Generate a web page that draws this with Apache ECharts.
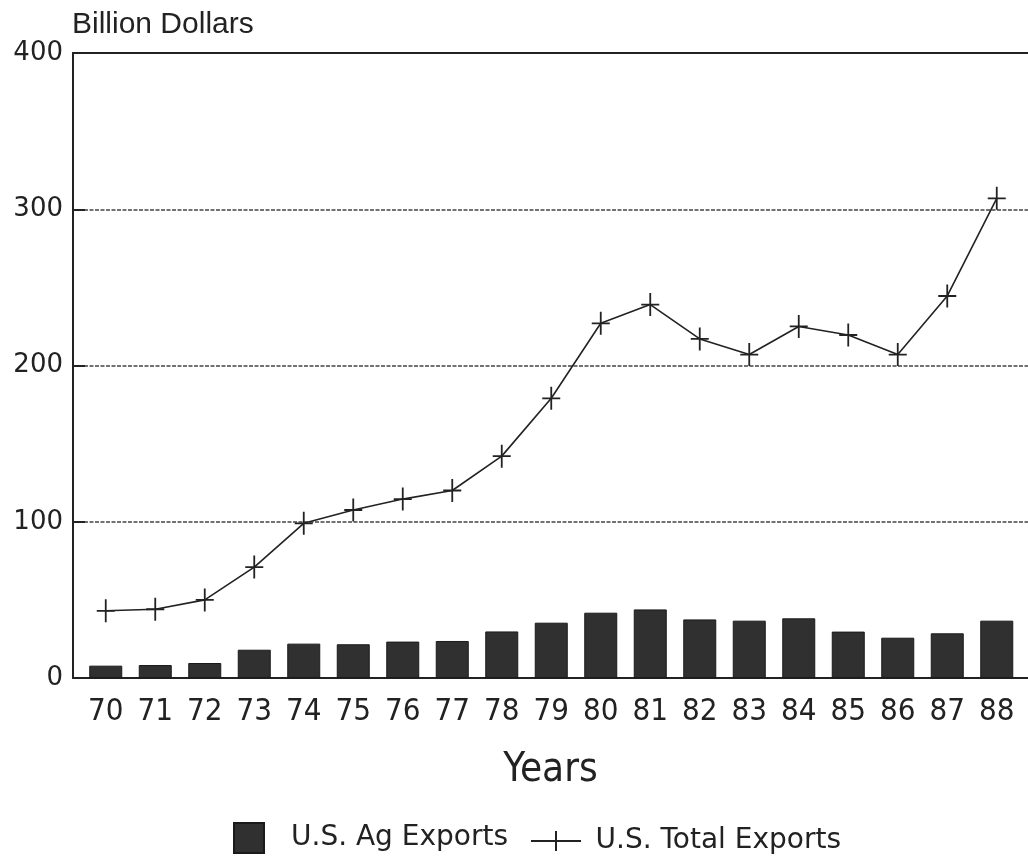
<!DOCTYPE html>
<html>
<head>
<meta charset="utf-8">
<title>U.S. Ag Exports and U.S. Total Exports</title>
<script src="https://cdn.jsdelivr.net/npm/echarts@6/dist/echarts.min.js"></script>
<style>
  html, body { margin: 0; padding: 0; background: #fff; }
  #chart { width: 1028px; height: 865px; }
</style>
</head>
<body>
<div id="chart"></div>
<script>
// Years on the horizontal axis (19xx)
const years = ['70','71','72','73','74','75','76','77','78','79','80','81','82','83','84','85','86','87','88'];
// U.S. agricultural exports, billion dollars
const agExports = [7.9, 8.3, 9.6, 18.1, 22.0, 21.6, 23.3, 23.7, 29.8, 35.4, 41.8, 43.9, 37.5, 36.7, 38.2, 29.7, 25.8, 28.6, 36.7];
// U.S. total exports, billion dollars
const totalExports = [43, 44, 50, 71, 99, 107.5, 114.5, 120, 142, 179, 227, 239, 217, 207, 225, 219.5, 207, 244.5, 307];
// Value axis ticks
const yMin = 0, yMax = 400, yStep = 100;

const narrow = "'Liberation Sans Narrow', 'DejaVu Sans Condensed', 'Liberation Sans', sans-serif";
const ink = '#222';
const plusMark = 'path://M7.2,0 H8.8 V9.2 H16 V10.8 H8.8 V20 H7.2 V10.8 H0 V9.2 H7.2 Z';
const plusLegend = 'path://M24,0 H26 V9 H50 V11 H26 V20 H24 V11 H0 V9 H24 Z';

const chart = echarts.init(document.getElementById('chart'), null, { renderer: 'canvas' });

chart.setOption({
  animation: false,
  backgroundColor: '#ffffff',
  grid: [
    // plotting grid: category bands centred under the year labels
    { left: 81, right: 6.5, top: 53, bottom: 187 },
    // frame grid: axis lines, value labels and gridlines
    { left: 73, right: 0, top: 53, bottom: 187 }
  ],
  xAxis: [
    {
      type: 'category', gridIndex: 0, data: years, boundaryGap: true,
      axisLine: { show: false }, axisTick: { show: false },
      axisLabel: { color: ink, fontFamily: narrow, fontSize: 31, margin: 18 }
    },
    {
      type: 'value', gridIndex: 1, min: 0, max: 1, position: 'bottom',
      axisLine: { show: true, lineStyle: { color: ink, width: 2 } },
      axisTick: { show: false }, axisLabel: { show: false }, splitLine: { show: false },
      name: 'Years', nameLocation: 'middle', nameGap: 73,
      nameTextStyle: { color: ink, fontFamily: narrow, fontSize: 40 }
    },
    {
      type: 'value', gridIndex: 1, min: 0, max: 1, position: 'top',
      axisLine: { show: true, lineStyle: { color: ink, width: 2 } },
      axisTick: { show: false }, axisLabel: { show: false }, splitLine: { show: false }
    }
  ],
  yAxis: [
    {
      type: 'value', gridIndex: 0, min: yMin, max: yMax, interval: yStep,
      show: false, splitLine: { show: false }
    },
    {
      type: 'value', gridIndex: 1, min: yMin, max: yMax, interval: yStep,
      axisLine: { show: true, lineStyle: { color: ink, width: 2 } },
      axisTick: { show: true, inside: true, length: 12, lineStyle: { color: ink, width: 2 } },
      axisLabel: { color: ink, fontFamily: "'DejaVu Sans', sans-serif", fontSize: 26, margin: 10 },
      splitLine: { show: true, lineStyle: { color: '#444', width: 1.5, type: [4, 1.5] } }
    }
  ],
  legend: [
    {
      left: 228, top: 817, itemWidth: 30, itemHeight: 30, itemGap: 0,
      data: [{ name: 'U.S. Ag Exports', icon: 'rect' }],
      textStyle: { color: ink, fontFamily: "'DejaVu Sans', sans-serif", fontSize: 28, padding: [0, 0, 0, 22] },
      selectedMode: false
    },
    {
      left: 526, top: 822, itemWidth: 51, itemHeight: 20, itemGap: 0,
      data: [{ name: 'U.S. Total Exports', icon: plusLegend }],
      textStyle: { color: ink, fontFamily: "'DejaVu Sans', sans-serif", fontSize: 28, padding: [0, 0, 0, 9] },
      selectedMode: false
    }
  ],
  graphic: [
    {
      type: 'text', left: 72, top: 10,
      style: { text: 'Billion Dollars', fill: ink, font: "30px 'Liberation Sans', sans-serif" }
    }
  ],
  series: [
    {
      name: 'U.S. Ag Exports', type: 'bar', xAxisIndex: 0, yAxisIndex: 0,
      data: agExports, barWidth: 33,
      itemStyle: { color: '#303030', borderColor: '#1a1a1a', borderWidth: 1 }
    },
    {
      name: 'U.S. Total Exports', type: 'line', xAxisIndex: 0, yAxisIndex: 0,
      data: totalExports,
      symbol: plusMark, symbolSize: [18, 23], showAllSymbol: true,
      lineStyle: { color: ink, width: 1.6 },
      itemStyle: { color: ink }
    }
  ]
});
</script>
</body>
</html>
